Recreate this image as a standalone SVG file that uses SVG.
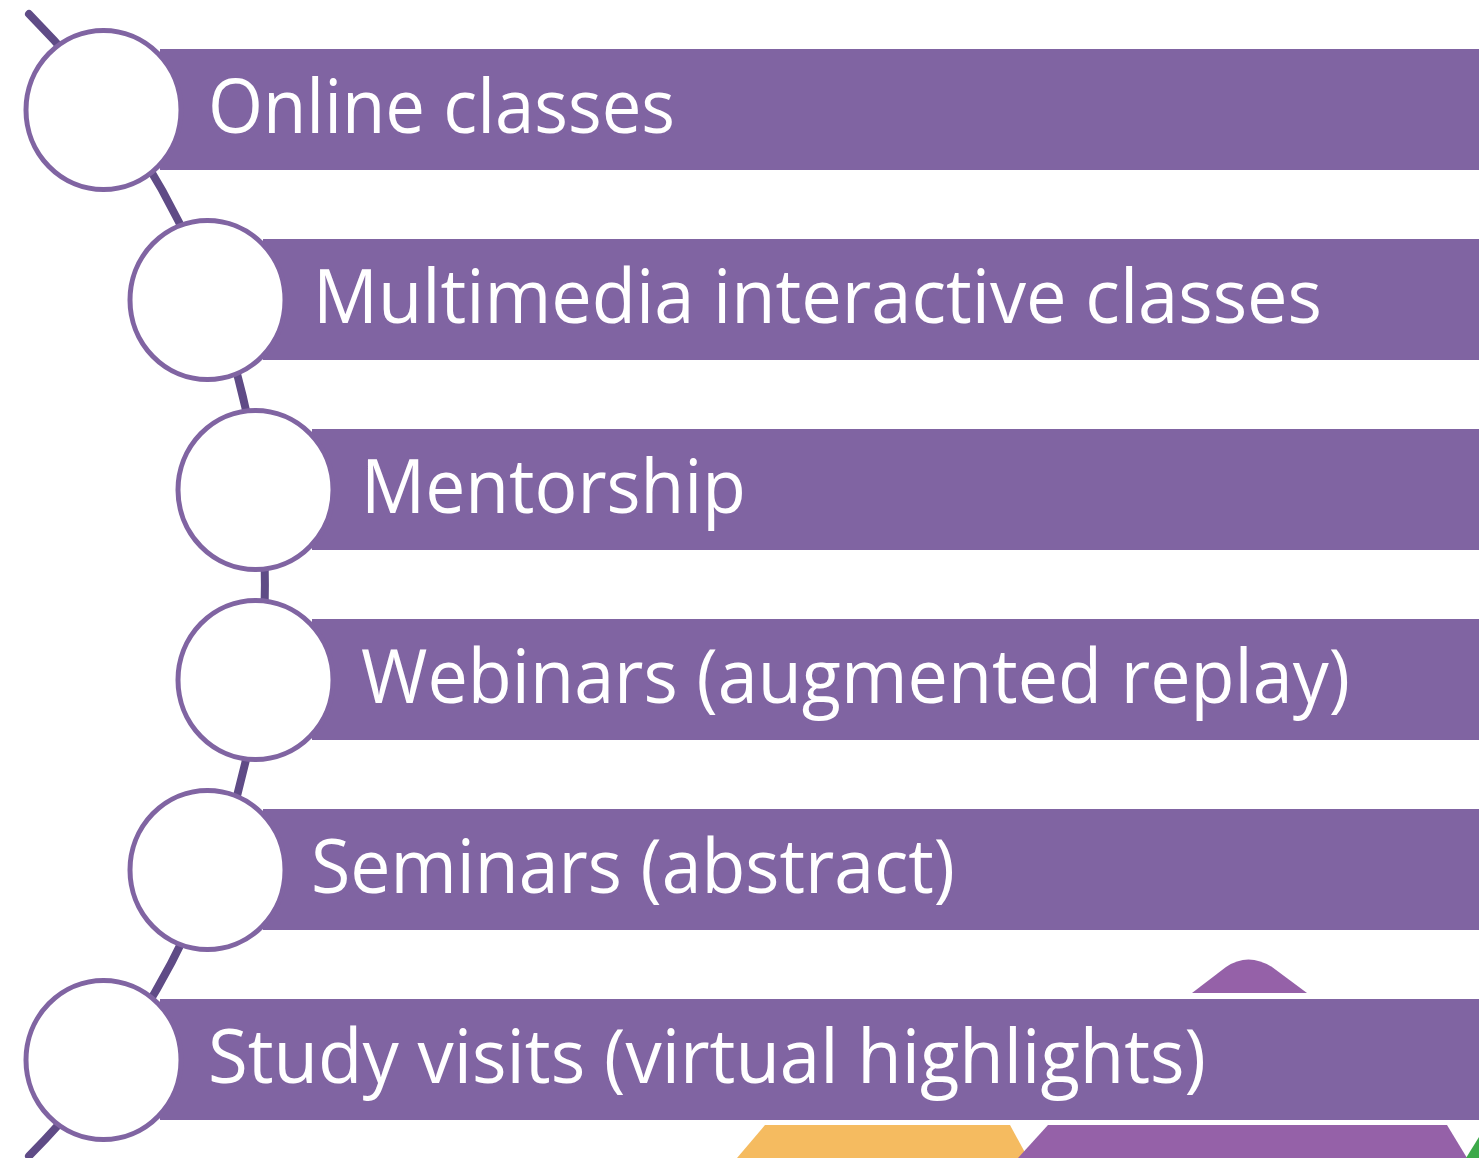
<svg xmlns="http://www.w3.org/2000/svg" width="1479" height="1158" viewBox="0 0 1479 1158">
<style>
.bar{fill:#8064A2}
.node circle,.node ellipse{fill:#FFFFFF;stroke:#8064A2;stroke-width:5}
.lbl{font-family:"Open Sans","Noto Sans","Liberation Sans",sans-serif;font-size:75px;fill:#FFFFFF}
</style>
<rect width="1479" height="1158" fill="#FFFFFF"/>
<g id="decor">
<path d="M1192,993 L1226,967 Q1248,952 1272,967 L1307,993 Z" fill="#9561A8"/>
<polygon points="765,1125 1010,1125 1028,1158 737,1158" fill="#F5BB60"/>
<polygon points="1048,1125 1447,1125 1467,1158 1018,1158" fill="#9561A8"/>
<polygon points="1479,1137 1479,1158 1466,1158" fill="#3DAA4A"/>
</g>
<g id="connectors">
<path d="M29,14 A809,809 0 0 1 29,1156" fill="none" stroke="#5F4B86" stroke-width="8" stroke-linecap="round"/>
</g>
<g id="node1" class="node">
<rect class="bar" x="160" y="49" width="1319" height="121"/>
<ellipse cx="103.5" cy="110" rx="77.5" ry="79.5"/>
<text class="lbl" x="208" y="133" textLength="467" lengthAdjust="spacingAndGlyphs">Online classes</text>
</g>
<g id="node2" class="node">
<rect class="bar" x="263" y="239" width="1216" height="121"/>
<ellipse cx="207.5" cy="300" rx="77.5" ry="79.5"/>
<text class="lbl" x="313" y="323" textLength="1009" lengthAdjust="spacingAndGlyphs">Multimedia interactive classes</text>
</g>
<g id="node3" class="node">
<rect class="bar" x="312" y="429" width="1167" height="121"/>
<ellipse cx="255.5" cy="490" rx="77.5" ry="79.5"/>
<text class="lbl" x="361" y="513" textLength="385" lengthAdjust="spacingAndGlyphs">Mentorship</text>
</g>
<g id="node4" class="node">
<rect class="bar" x="312" y="619" width="1167" height="121"/>
<ellipse cx="255.5" cy="680" rx="77.5" ry="79.5"/>
<text class="lbl" x="361" y="703" textLength="989" lengthAdjust="spacingAndGlyphs">Webinars (augmented replay)</text>
</g>
<g id="node5" class="node">
<rect class="bar" x="263" y="809" width="1216" height="121"/>
<ellipse cx="207.5" cy="870" rx="77.5" ry="79.5"/>
<text class="lbl" x="311" y="893" textLength="644" lengthAdjust="spacingAndGlyphs">Seminars (abstract)</text>
</g>
<g id="node6" class="node">
<rect class="bar" x="160" y="999" width="1319" height="121"/>
<ellipse cx="103.5" cy="1060" rx="77.5" ry="79.5"/>
<text class="lbl" x="208" y="1083" textLength="998" lengthAdjust="spacingAndGlyphs">Study visits (virtual highlights)</text>
</g>
</svg>
